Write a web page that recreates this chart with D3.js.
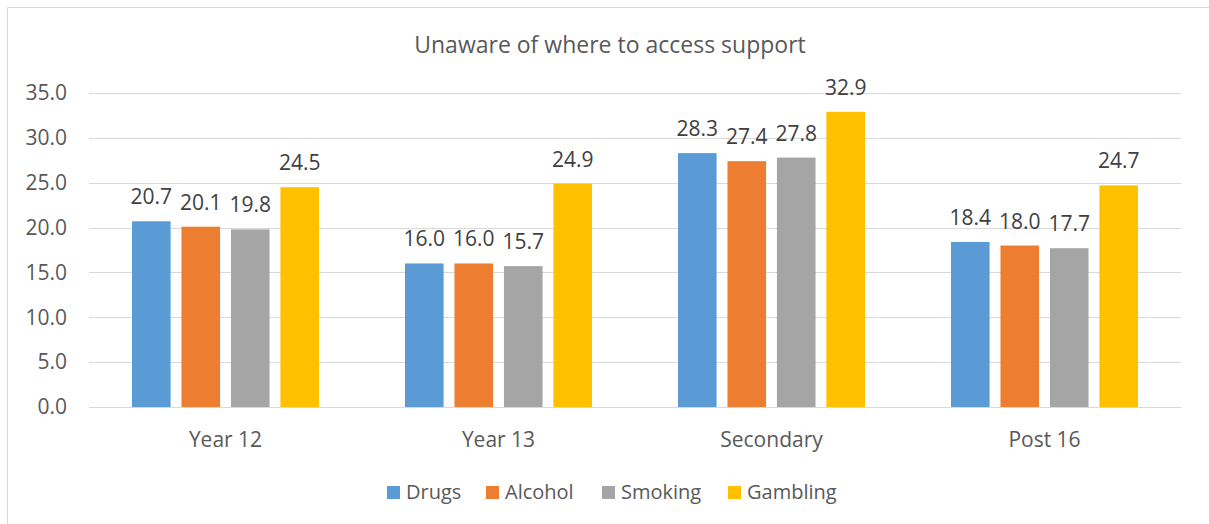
<!DOCTYPE html>
<html><head><meta charset="utf-8">
<script src="https://cdn.jsdelivr.net/npm/d3@7"></script>
<style>body{margin:0;background:#fff}svg{display:block}text{font-family:"Open Sans","Noto Sans",sans-serif}</style>
</head><body><svg id="c" width="1209" height="524"></svg>
<script>
const categories = ["Year 12", "Year 13", "Secondary", "Post 16"];
const seriesNames = ["Drugs", "Alcohol", "Smoking", "Gambling"];
const drugs = [20.7, 16.0, 28.3, 18.4];
const alcohol = [20.1, 16.0, 27.4, 18.0];
const smoking = [19.8, 15.7, 27.8, 17.7];
const gambling = [24.5, 24.9, 32.9, 24.7];
const colors = ["#5B9BD5", "#ED7D31", "#A5A5A5", "#FFC000"];
const yTicks = [0, 5, 10, 15, 20, 25, 30, 35];
const title = "Unaware of where to access support";

const series = [drugs, alcohol, smoking, gambling];
const svg = d3.select("#c");
svg.append("rect").attr("width",1209).attr("height",524).attr("fill","#fff");
svg.append("path").attr("d","M7.5,524V7.5H1209").attr("fill","none").attr("stroke","#D9D9D9").attr("stroke-width",1);

const L = 89, R = 1181, T = 93, B = 407;
const y = d3.scaleLinear().domain([0,35]).range([B,T]);
const x0 = d3.scaleBand().domain(categories).range([L,R]).padding(0);
const x1 = d3.scaleBand().domain(seriesNames).range([43, x0.bandwidth()-43]).paddingInner(0.22).paddingOuter(0);

svg.append("text").attr("x",610).attr("y",53).attr("text-anchor","middle").attr("font-size",23).attr("fill","#595959").text(title);

const grid = svg.append("g");
grid.selectAll("line").data(yTicks).join("line")
  .attr("x1",L).attr("x2",R).attr("y1",d=>Math.round(y(d))+0.5).attr("y2",d=>Math.round(y(d))+0.5)
  .attr("stroke",(d)=>"#D9D9D9").attr("stroke-width",1.2);

const yAxis = d3.axisLeft(y).tickValues(yTicks).tickFormat(d3.format(".1f")).tickSize(0).tickPadding(0);
const ga = svg.append("g").attr("transform",`translate(${L-22},0)`).call(yAxis);
ga.select(".domain").remove();
ga.selectAll("text").attr("font-size",21).attr("fill","#595959").attr("font-family","'Open Sans',sans-serif");

const xAxis = d3.axisBottom(x0).tickSize(0).tickPadding(0);
const gx = svg.append("g").attr("transform",`translate(0,${B+32})`).call(xAxis);
gx.select(".domain").remove();
gx.selectAll("text").attr("dy",null).attr("y",8).attr("font-size",21).attr("fill","#595959").attr("font-family","'Open Sans',sans-serif");

const groups = svg.append("g").selectAll("g").data(categories).join("g")
  .attr("transform",d=>`translate(${x0(d)},0)`);
groups.each(function(c,ci){
  const g = d3.select(this);
  seriesNames.forEach((s,si)=>{
    const v = series[si][ci];
    g.append("rect").attr("x",x1(s)).attr("width",x1.bandwidth())
      .attr("y",y(v)).attr("height",y(0)-y(v)).attr("fill",colors[si]);
    g.append("text").attr("x",x1(s)+x1.bandwidth()/2).attr("y",y(v)-17)
      .attr("text-anchor","middle").attr("font-size",21).attr("fill","#404040").text(d3.format(".1f")(v));
  });
});

const legX = [387, 486, 602, 728];
const lg = svg.append("g");
seriesNames.forEach((s,i)=>{
  lg.append("rect").attr("x",legX[i]).attr("y",486).attr("width",13).attr("height",13).attr("fill",colors[i]);
  lg.append("text").attr("x",legX[i]+19).attr("y",499).attr("font-size",20).attr("fill","#595959").text(s);
});
</script></body></html>
